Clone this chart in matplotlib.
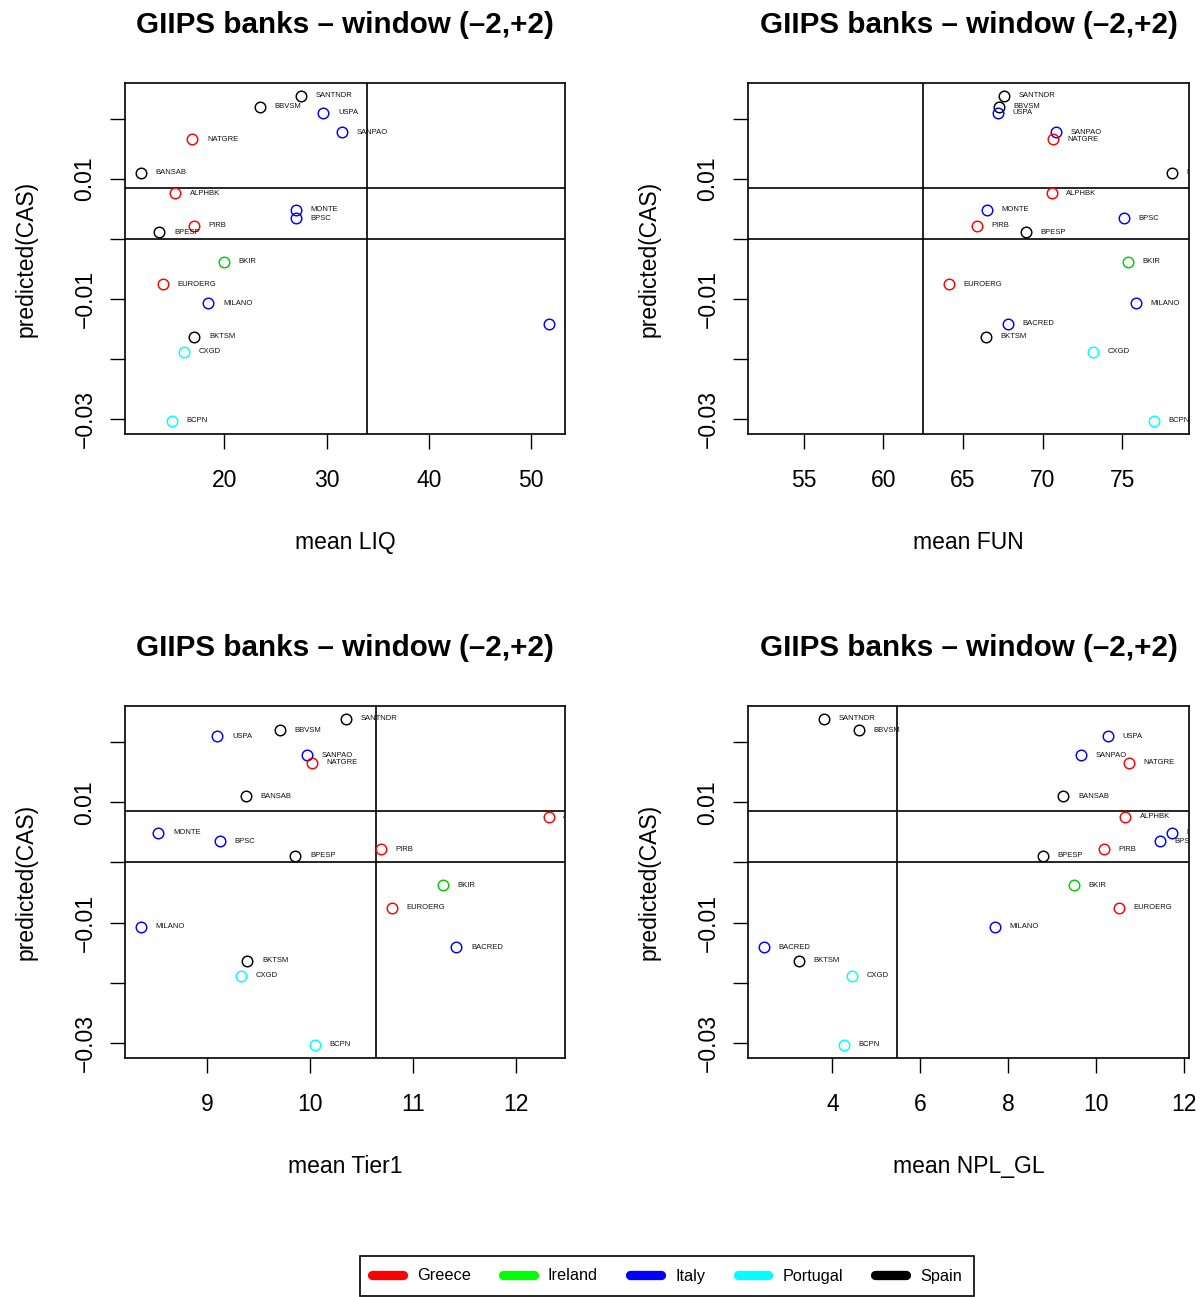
import matplotlib
matplotlib.use("Agg")
import matplotlib.pyplot as plt
from matplotlib.lines import Line2D

plt.rcParams['font.family'] = ['Liberation Sans', 'DejaVu Sans']

# ---------------- data ----------------
banks = ["SANTNDR", "BBVSM", "USPA", "SANPAO", "NATGRE", "BANSAB", "ALPHBK",
         "MONTE", "BPSC", "PIRB", "BPESP", "BKIR", "EUROERG", "MILANO",
         "BACRED", "BKTSM", "CXGD", "BCPN"]
country = ["Spain", "Spain", "Italy", "Italy", "Greece", "Spain", "Greece",
           "Italy", "Italy", "Greece", "Spain", "Ireland", "Greece", "Italy",
           "Italy", "Spain", "Portugal", "Portugal"]
pred_cas = [0.0239, 0.0220, 0.0210, 0.0178, 0.0166, 0.0110, 0.0076,
            0.0049, 0.0035, 0.0022, 0.0011, -0.0038, -0.0075, -0.0107,
            -0.0141, -0.0163, -0.0188, -0.0303]
mean_liq = [27.47, 23.46, 29.68, 31.50, 16.87, 11.86, 15.18,
            26.98, 26.98, 17.01, 13.65, 19.94, 13.98, 18.44,
            51.71, 17.07, 16.09, 14.89]
mean_fun = [67.58, 67.25, 67.21, 70.87, 70.66, 78.12, 70.56,
            66.49, 75.12, 65.89, 68.93, 75.33, 64.11, 75.84,
            67.81, 66.45, 73.17, 76.99]
mean_tier1 = [10.351, 9.707, 9.097, 9.972, 10.020, 9.376, 12.318,
              8.524, 9.120, 10.685, 9.855, 11.293, 10.792, 8.356,
              11.420, 9.389, 9.331, 10.044]
mean_npl = [3.81, 4.61, 10.26, 9.65, 10.74, 9.25, 10.65,
            11.72, 11.45, 10.18, 8.79, 9.49, 10.52, 7.70,
            2.45, 3.24, 4.44, 4.27]

x_labels = ["mean LIQ", "mean FUN", "mean Tier1", "mean NPL_GL"]
x_ticks = [[20, 30, 40, 50], [55, 60, 65, 70, 75], [9, 10, 11, 12], [4, 6, 8, 10, 12]]
x_limits = [(10.29, 53.3), (51.5, 79.19), (8.2, 12.476), (2.082, 12.107)]
v_split = [33.9, 62.46, 10.642, 5.461]
h_split = [0.0085, 0.0]
y_ticks = [-0.03, -0.02, -0.01, 0.0, 0.01, 0.02]
y_ticklabels = ["\u22120.03", "", "\u22120.01", "", "0.01", ""]
y_limits = (-0.0325, 0.026)

countries = ["Greece", "Ireland", "Italy", "Portugal", "Spain"]
point_colors = {"Greece": "#FF0000", "Ireland": "#00CD00", "Italy": "#0000FF",
                "Portugal": "#00FFFF", "Spain": "#000000"}
legend_colors = {"Greece": "#FF0000", "Ireland": "#00FF00", "Italy": "#0000FF",
                 "Portugal": "#00FFFF", "Spain": "#000000"}

title = "GIIPS banks \u2013 window (\u20132,+2)"

# ---------------- figure ----------------
W, H = 1204, 1297
fig = plt.figure(figsize=(W / 100, H / 100), dpi=100)

def px_axes(l, r, t, b):
    return fig.add_axes([l / W, 1 - b / H, (r - l) / W, (b - t) / H])

boxes = [(125, 565, 83, 434), (748, 1189, 83, 434),
         (125, 565, 706, 1058), (748, 1189, 706, 1058)]
xdata = [mean_liq, mean_fun, mean_tier1, mean_npl]

for i, (l, r, t, b) in enumerate(boxes):
    ax = px_axes(l, r, t, b)
    xs = xdata[i]
    for name, c, xv, yv in zip(banks, country, xs, pred_cas):
        ax.plot(xv, yv, marker='o', ls='none', ms=7.6, mfc='none',
                mec=point_colors[c], mew=1.05, zorder=3)
        ax.annotate(name, (xv, yv), xytext=(10.5, 0), textcoords='offset points',
                    va='center', ha='left', fontsize=5.5, color='#111111',
                    clip_on=True)
    for hv in h_split:
        ax.axhline(hv, color='black', lw=1.2, zorder=2)
    ax.axvline(v_split[i], color='black', lw=1.2, zorder=2)

    ax.set_xlim(*x_limits[i])
    ax.set_ylim(*y_limits)
    ax.set_xticks(x_ticks[i])
    ax.set_xticklabels([str(v) for v in x_ticks[i]])
    ax.set_yticks(y_ticks)
    ax.set_yticklabels(y_ticklabels, rotation=90, va='center')
    ax.tick_params(axis='both', length=10.5, width=1.0, labelsize=16.5,
                   direction='out', color='black')
    ax.tick_params(axis='x', pad=15)
    ax.tick_params(axis='y', pad=10)
    for s in ax.spines.values():
        s.set_linewidth(1.2)
    ax.set_xlabel(x_labels[i], fontsize=16.5, labelpad=28)
    ax.set_ylabel("predicted(CAS)", fontsize=16.5, labelpad=26)
    ax.set_title(title, fontsize=21.3, fontweight='bold', pad=36)

handles = [Line2D([0], [0], color=legend_colors[c], lw=6.7, solid_capstyle='round')
           for c in countries]
leg = fig.legend(handles, countries, loc='center', bbox_to_anchor=(667 / W, 1 - 1276 / H),
                 ncol=5, fontsize=11.7, handlelength=1.9, handletextpad=0.85,
                 columnspacing=2.0, borderpad=0.75, fancybox=False, framealpha=1,
                 edgecolor='black', frameon=True)
leg.get_frame().set_linewidth(1.2)

fig.savefig("out.png", dpi=100)
